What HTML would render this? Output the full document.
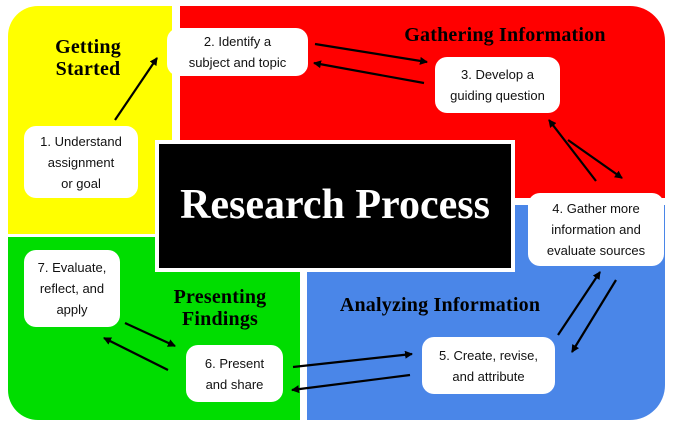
<!DOCTYPE html><html><head><style>
body{margin:0;width:673px;height:428px;background:#fff;position:relative;overflow:hidden;font-family:"Liberation Serif",serif}
.r{position:absolute}
.b{position:absolute;background:#fff;border-radius:12px;display:flex;align-items:center;justify-content:center;text-align:center;font-family:"Liberation Sans",sans-serif;font-size:13px;line-height:21px;color:#111;font-weight:300}
.t{position:absolute;font-weight:bold;font-size:20px;line-height:22px;text-align:center;color:#000;letter-spacing:0.2px}
</style></head><body>
<div class="r" style="left:8px;top:6px;width:164px;height:228px;background:#ffff00;border-top-left-radius:30px"></div>
<div class="r" style="left:180px;top:6px;width:485px;height:192px;background:#ff0000;border-top-right-radius:35px"></div>
<div class="r" style="left:8px;top:237px;width:292px;height:183px;background:#00dd00;border-bottom-left-radius:30px"></div>
<div class="r" style="left:307px;top:205px;width:358px;height:215px;background:#4a86e8;border-bottom-right-radius:35px"></div>
<div class="r" style="left:155px;top:140px;width:352px;height:124px;background:#000;border:4px solid #fff"></div>
<div class="r" style="left:155px;top:180px;width:360px;text-align:center;color:#fff;font-size:42px;font-weight:bold;line-height:50px">Research Process</div>
<div class="t" style="left:28px;top:36px;width:120px">Getting<br>Started</div>
<div class="t" style="left:380px;top:24px;width:250px">Gathering Information</div>
<div class="t" style="left:145px;top:286px;width:150px">Presenting<br>Findings</div>
<div class="t" style="left:310px;top:294px;width:260px">Analyzing Information</div>
<div class="b" style="left:24px;top:126px;width:114px;height:72px">1. Understand<br>assignment<br>or goal</div>
<div class="b" style="left:167px;top:28px;width:141px;height:48px">2. Identify a<br>subject and topic</div>
<div class="b" style="left:435px;top:57px;width:125px;height:56px">3. Develop a<br>guiding question</div>
<div class="b" style="left:528px;top:193px;width:136px;height:73px">4. Gather more<br>information and<br>evaluate sources</div>
<div class="b" style="left:422px;top:337px;width:133px;height:57px">5. Create, revise,<br>and attribute</div>
<div class="b" style="left:186px;top:345px;width:97px;height:57px">6. Present<br>and share</div>
<div class="b" style="left:24px;top:250px;width:96px;height:77px">7. Evaluate,<br>reflect, and<br>apply</div>
<svg class="r" style="left:0;top:0" width="673" height="428">
<defs><marker id="a" markerWidth="8" markerHeight="8" refX="7" refY="4" orient="auto" markerUnits="userSpaceOnUse"><path d="M0,0L8,4L0,8z" fill="#000"/></marker></defs>
<g stroke="#000" stroke-width="2.2" marker-end="url(#a)">
<line x1="115" y1="120" x2="157" y2="58"/>
<line x1="315" y1="44" x2="427" y2="62"/>
<line x1="424" y1="83" x2="314" y2="63"/>
<line x1="568" y1="140" x2="622" y2="178"/>
<line x1="596" y1="181" x2="549" y2="120"/>
<line x1="558" y1="335" x2="600" y2="272"/>
<line x1="616" y1="280" x2="572" y2="352"/>
<line x1="293" y1="367" x2="412" y2="354"/>
<line x1="410" y1="375" x2="292" y2="390"/>
<line x1="125" y1="323" x2="175" y2="346"/>
<line x1="168" y1="370" x2="104" y2="338"/>
</g></svg>
</body></html>
